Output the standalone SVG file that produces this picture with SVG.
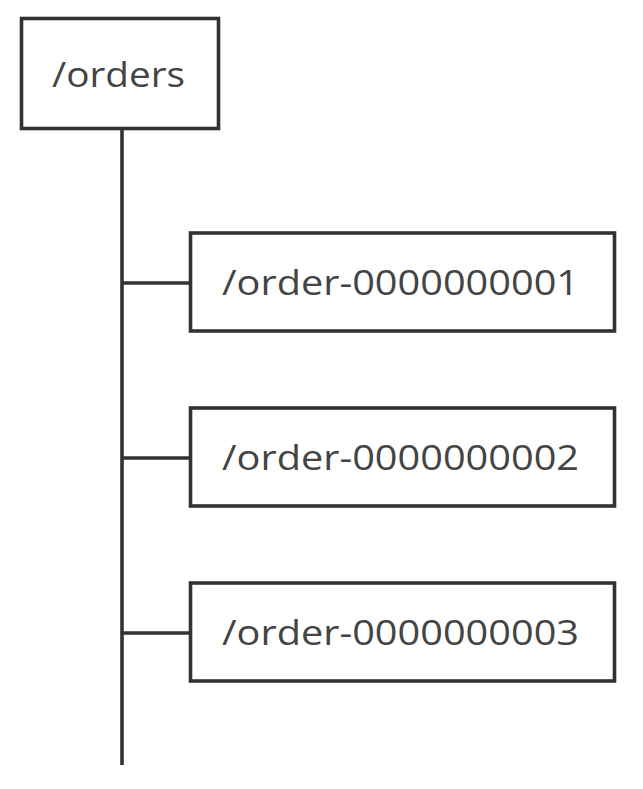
<svg xmlns="http://www.w3.org/2000/svg" width="643" height="789" viewBox="0 0 643 789">
<style>
.box{fill:#fff;stroke:#333;stroke-width:3.6}
.conn{stroke:#333;stroke-width:3.6;fill:none}
.lbl{font-family:"Open Sans","Noto Sans","DejaVu Sans",sans-serif;font-size:35px;fill:#444}
</style>
<rect width="643" height="789" fill="#fff"/>
<g id="connectors">
<line class="conn" x1="122" y1="130" x2="122" y2="765"/>
<line class="conn" x1="122" y1="283" x2="190" y2="283"/>
<line class="conn" x1="122" y1="458" x2="190" y2="458"/>
<line class="conn" x1="122" y1="633" x2="190" y2="633"/>
</g>
<g id="orders">
<rect class="box" x="21.5" y="18.5" width="197" height="110"/>
<text class="lbl" x="52" y="87" textLength="133" lengthAdjust="spacingAndGlyphs">/orders</text>
</g>
<g id="order1">
<rect class="box" x="190.5" y="233" width="424" height="98"/>
<text class="lbl" x="222" y="295" textLength="357" lengthAdjust="spacingAndGlyphs">/order-0000000001</text>
</g>
<g id="order2">
<rect class="box" x="190.5" y="408" width="424" height="98"/>
<text class="lbl" x="222" y="470" textLength="357" lengthAdjust="spacingAndGlyphs">/order-0000000002</text>
</g>
<g id="order3">
<rect class="box" x="190.5" y="583" width="424" height="98"/>
<text class="lbl" x="222" y="645" textLength="357" lengthAdjust="spacingAndGlyphs">/order-0000000003</text>
</g>
</svg>
